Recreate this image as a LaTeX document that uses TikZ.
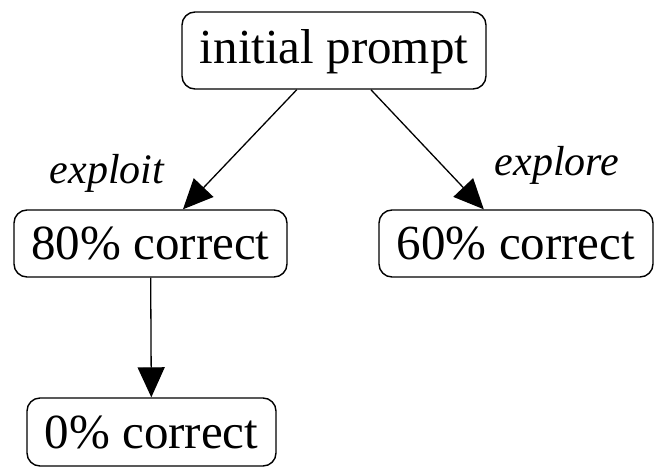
\documentclass[tikz,border=0pt]{standalone}
\usepackage{fontspec}
\setmainfont{Liberation Serif}
\usetikzlibrary{arrows.meta}
\begin{document}
\begin{tikzpicture}[x=1pt,y=-1pt,
  box/.style={draw,line width=1.4pt,rounded corners=13pt,inner sep=0pt,
    font=\fontsize{49}{55}\selectfont,text height=32pt,text depth=0pt},
  lbl/.style={font=\fontsize{42}{48}\selectfont\itshape,anchor=base,inner sep=0pt},
  edge/.style={line width=1.3pt,-{Triangle[length=30pt,width=27pt]}}]
\useasboundingbox (0,0) rectangle (664,474);
\node[box,minimum width=304pt,minimum height=77pt,text height=35pt,text depth=10pt] (ip) at (334,50.5) {initial prompt};
\node[box,minimum width=273pt,minimum height=67pt] (c80) at (150.5,243.5) {80\% correct};
\node[box,minimum width=274pt,minimum height=67pt] (c60) at (516,243.5) {60\% correct};
\node[box,minimum width=249pt,minimum height=68pt] (c0) at (151.5,432) {0\% correct};
\node[lbl] (lx) at (107,183) {exploit};
\node[lbl] (le) at (557,175) {explore};
\draw[edge] (ip) -- (c80);
\draw[edge] (ip) -- (c60);
\draw[edge] (c80) -- (c0);
\end{tikzpicture}
\end{document}
